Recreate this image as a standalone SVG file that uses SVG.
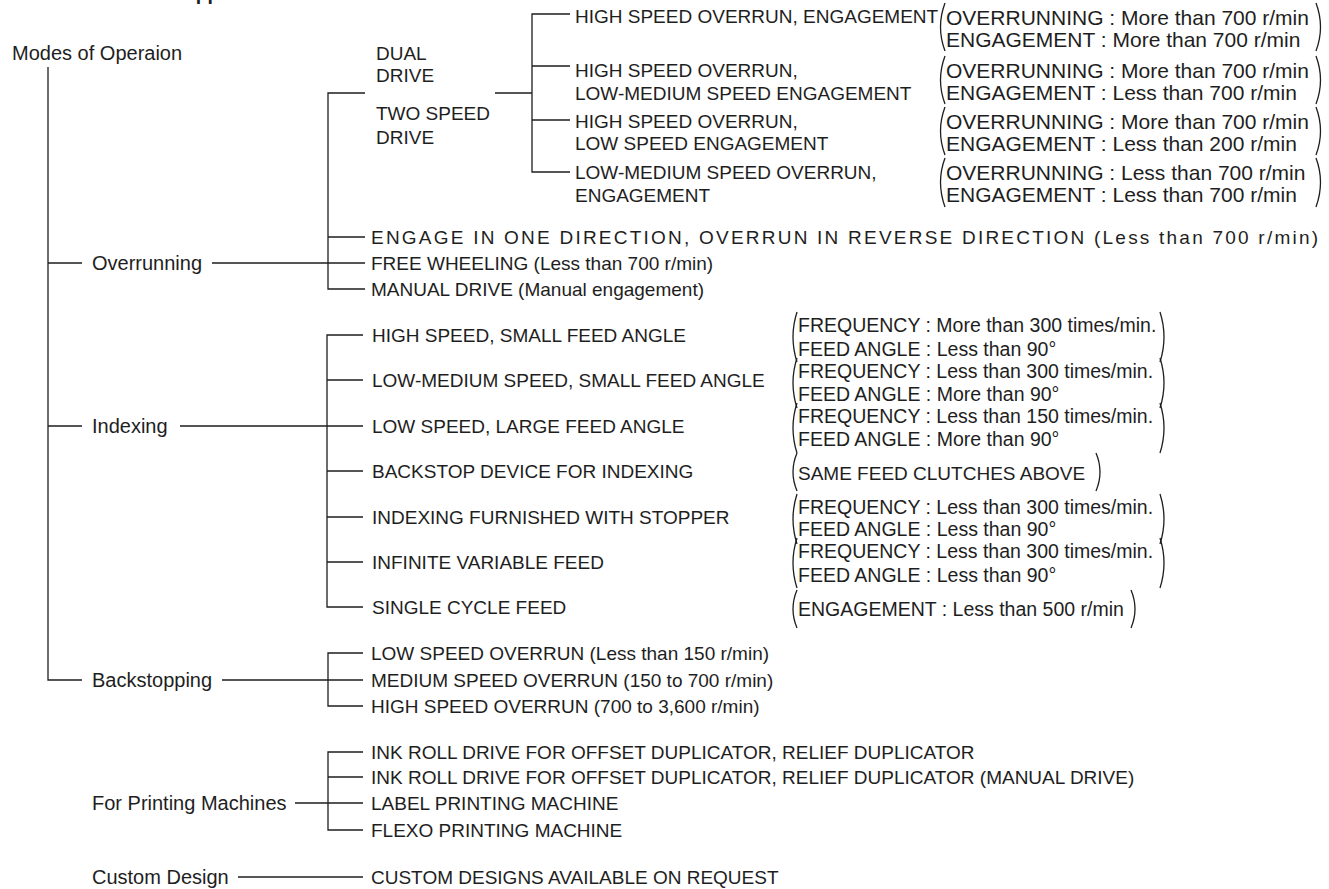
<svg xmlns="http://www.w3.org/2000/svg" width="1329" height="889" viewBox="0 0 1329 889">
<style>
text{font-family:"Liberation Sans",Arial,sans-serif;font-size:19px;fill:#1e1e1e}
.title{font-weight:bold;font-size:19.5px}
.lbl{font-size:20px}
.pt{font-size:21px}
.pi{font-size:19.5px}
.ln{fill:none;stroke:#1e1e1e;stroke-width:1.3}
.par{fill:none;stroke:#1e1e1e;stroke-width:1.3}
</style>
<rect width="1329" height="889" fill="#fff"/>
<text class="title" x="10" y="0">Classification and Applications</text>

<g id="connectors" class="ln">
<path d="M48,67V680H82M48,263H82M48,426H82"/>
<path d="M212,263H365M365,93H328V289H365M328,237H365"/>
<path d="M495,93H532M570,14H532V172H570M532,66H570M532,120H570"/>
<path d="M180,426H363M363,335H327V607H363M327,380H363M327,471H363M327,517H363M327,562H363"/>
<path d="M222,680H363M363,653H328V706H363"/>
<path d="M295,803H363M363,752H328V830H363M328,777H363"/>
<path d="M238,877H363"/>
</g>

<g id="root"><text class="lbl" x="12" y="60">Modes of Operaion</text></g>
<g id="overrunning"><text class="lbl" x="92" y="270">Overrunning</text></g>
<g id="indexing"><text class="lbl" x="92" y="433">Indexing</text></g>
<g id="backstopping"><text class="lbl" x="92" y="687">Backstopping</text></g>
<g id="printing"><text class="lbl" x="92" y="810">For Printing Machines</text></g>
<g id="custom"><text class="lbl" x="92" y="884">Custom Design</text></g>

<g id="dual-two-speed">
<text x="376" y="60">DUAL</text>
<text x="376" y="82">DRIVE</text>
<text x="376" y="120">TWO SPEED</text>
<text x="376" y="144">DRIVE</text>
</g>

<g id="ds1"><text x="575" y="23">HIGH SPEED OVERRUN, ENGAGEMENT</text>
<path class="par" d="M945,3Q936,27 945,51M1316,3Q1325,27 1316,51"/>
<text class="pt" x="946" y="24.5">OVERRUNNING : More than 700 r/min</text>
<text class="pt" x="946" y="46.5">ENGAGEMENT : More than 700 r/min</text></g>
<g id="ds2"><text x="575" y="77">HIGH SPEED OVERRUN,</text><text x="575" y="100">LOW-MEDIUM SPEED ENGAGEMENT</text>
<path class="par" d="M945,56Q936,80 945,104M1316,56Q1325,80 1316,104"/>
<text class="pt" x="946" y="77.5">OVERRUNNING : More than 700 r/min</text>
<text class="pt" x="946" y="99.5">ENGAGEMENT : Less than 700 r/min</text></g>
<g id="ds3"><text x="575" y="128">HIGH SPEED OVERRUN,</text><text x="575" y="150">LOW SPEED ENGAGEMENT</text>
<path class="par" d="M945,107Q936,131 945,155M1316,107Q1325,131 1316,155"/>
<text class="pt" x="946" y="128.5">OVERRUNNING : More than 700 r/min</text>
<text class="pt" x="946" y="150.5">ENGAGEMENT : Less than 200 r/min</text></g>
<g id="ds4"><text x="575" y="179">LOW-MEDIUM SPEED OVERRUN,</text><text x="575" y="202">ENGAGEMENT</text>
<path class="par" d="M945,158Q936,182 945,207M1316,158Q1325,182 1316,207"/>
<text class="pt" x="946" y="179.5">OVERRUNNING : Less than 700 r/min</text>
<text class="pt" x="946" y="202">ENGAGEMENT : Less than 700 r/min</text></g>

<g id="ov1"><text x="371" y="244" textLength="947" lengthAdjust="spacing">ENGAGE IN ONE DIRECTION, OVERRUN IN REVERSE DIRECTION (Less than 700 r/min)</text></g>
<g id="ov2"><text x="371" y="270">FREE WHEELING (Less than 700 r/min)</text></g>
<g id="ov3"><text x="371" y="296">MANUAL DRIVE (Manual engagement)</text></g>

<g id="ix1"><text x="372" y="342">HIGH SPEED, SMALL FEED ANGLE</text>
<path class="par" d="M797,312Q789,337 797,362M1160,312Q1168,337 1160,362"/>
<text class="pi" x="798" y="332">FREQUENCY : More than 300 times/min.</text>
<text class="pi" x="798" y="356">FEED ANGLE : Less than 90°</text></g>
<g id="ix2"><text x="372" y="387">LOW-MEDIUM SPEED, SMALL FEED ANGLE</text>
<path class="par" d="M797,358Q789,383 797,408M1160,358Q1168,383 1160,408"/>
<text class="pi" x="798" y="378">FREQUENCY : Less than 300 times/min.</text>
<text class="pi" x="798" y="401">FEED ANGLE : More than 90°</text></g>
<g id="ix3"><text x="372" y="433">LOW SPEED, LARGE FEED ANGLE</text>
<path class="par" d="M797,403Q789,428 797,453M1160,403Q1168,428 1160,453"/>
<text class="pi" x="798" y="423">FREQUENCY : Less than 150 times/min.</text>
<text class="pi" x="798" y="446">FEED ANGLE : More than 90°</text></g>
<g id="ix4"><text x="372" y="478">BACKSTOP DEVICE FOR INDEXING</text>
<path class="par" d="M797,453Q789,472 797,491M1096,453Q1104,472 1096,491"/>
<text x="798" y="480">SAME FEED CLUTCHES ABOVE</text></g>
<g id="ix5"><text x="372" y="524">INDEXING FURNISHED WITH STOPPER</text>
<path class="par" d="M797,494Q789,519 797,544M1160,494Q1168,519 1160,544"/>
<text class="pi" x="798" y="514">FREQUENCY : Less than 300 times/min.</text>
<text class="pi" x="798" y="536">FEED ANGLE : Less than 90°</text></g>
<g id="ix6"><text x="372" y="569">INFINITE VARIABLE FEED</text>
<path class="par" d="M797,538Q789,563 797,588M1160,538Q1168,563 1160,588"/>
<text class="pi" x="798" y="558">FREQUENCY : Less than 300 times/min.</text>
<text class="pi" x="798" y="582">FEED ANGLE : Less than 90°</text></g>
<g id="ix7"><text x="372" y="614">SINGLE CYCLE FEED</text>
<path class="par" d="M797,590Q789,609 797,628M1131,590Q1139,609 1131,628"/>
<text class="pi" x="798" y="616">ENGAGEMENT : Less than 500 r/min</text></g>

<g id="bs1"><text x="371" y="660">LOW SPEED OVERRUN (Less than 150 r/min)</text></g>
<g id="bs2"><text x="371" y="687">MEDIUM SPEED OVERRUN (150 to 700 r/min)</text></g>
<g id="bs3"><text x="371" y="713">HIGH SPEED OVERRUN (700 to 3,600 r/min)</text></g>

<g id="pm1"><text x="371" y="759">INK ROLL DRIVE FOR OFFSET DUPLICATOR, RELIEF DUPLICATOR</text></g>
<g id="pm2"><text x="371" y="784">INK ROLL DRIVE FOR OFFSET DUPLICATOR, RELIEF DUPLICATOR (MANUAL DRIVE)</text></g>
<g id="pm3"><text x="371" y="810">LABEL PRINTING MACHINE</text></g>
<g id="pm4"><text x="371" y="837">FLEXO PRINTING MACHINE</text></g>

<g id="cd1"><text x="371" y="884">CUSTOM DESIGNS AVAILABLE ON REQUEST</text></g>
</svg>
